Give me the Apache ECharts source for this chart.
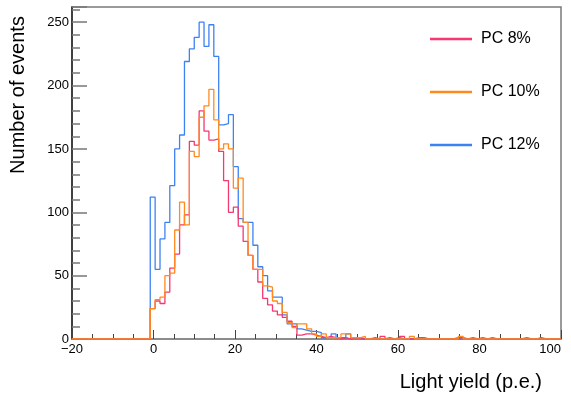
<!DOCTYPE html>
<html>
<head>
<meta charset="utf-8">
<script src="https://cdn.jsdelivr.net/npm/echarts@6/dist/echarts.min.js"></script>
<style>
  html, body { margin: 0; padding: 0; background: #fff; }
  #chart { width: 571px; height: 396px; }
</style>
</head>
<body>
<div id="chart"></div>
<script>
// Histogram binning: 100 bins from -20 to 100
const binLow = -20;
const binWidth = 1.2;

// Counts per bin (bin 0 starts at -20)
const pc8 = [
  0, 0, 0, 0, 0, 0, 0, 0, 0, 0, 0, 0, 0, 0, 0, 0,
  24, 30, 28, 37, 56, 67, 90, 98, 156, 153, 180, 164, 157, 158, 148, 125,
  100, 104, 89, 77, 66, 55, 45, 32, 27, 22, 19, 17, 14, 10, 3, 4,
  4, 3, 2, 1, 2, 1, 0, 1, 0, 1, 0, 0, 0, 0, 0, 2,
  0, 0, 0, 2, 0, 0, 1, 1, 0, 0, 0, 0, 0, 0, 1, 1,
  0, 0, 0, 1, 0, 0, 0, 0, 0, 0, 0, 0, 0, 0, 0, 0,
  0, 0, 0, 0
];
const pc10 = [
  0, 0, 0, 0, 0, 0, 0, 0, 0, 0, 0, 0, 0, 0, 0, 0,
  24, 31, 33, 50, 52, 86, 108, 90, 148, 144, 175, 184, 197, 173, 150, 154,
  150, 119, 127, 92, 66, 55, 55, 42, 41, 30, 28, 21, 13, 9, 12, 12,
  8, 4, 2, 4, 1, 1, 1, 4, 4, 1, 1, 2, 0, 0, 0, 0,
  0, 0, 0, 0, 0, 2, 0, 0, 0, 0, 0, 0, 0, 0, 0, 2,
  0, 0, 0, 0, 0, 0, 0, 0, 0, 0, 0, 0, 0, 0, 0, 0,
  0, 0, 0, 0
];
const pc12 = [
  0, 0, 0, 0, 0, 0, 0, 0, 0, 0, 0, 0, 0, 0, 0, 0,
  112, 55, 79, 92, 121, 150, 161, 219, 229, 238, 250, 231, 248, 223, 169, 170,
  177, 136, 95, 92, 92, 74, 57, 50, 38, 33, 33, 19, 12, 12, 8, 7,
  6, 6, 5, 1, 1, 4, 1, 1, 4, 0, 1, 0, 0, 1, 0, 0,
  1, 0, 1, 0, 0, 0, 0, 0, 0, 0, 0, 0, 0, 0, 0, 0,
  0, 1, 0, 0, 0, 1, 0, 0, 0, 0, 0, 0, 1, 0, 0, 1,
  0, 0, 0, 0
];

const seriesNames = ['PC 8%', 'PC 10%', 'PC 12%'];
const seriesColors = ['#f53772', '#ff8a1e', '#3d82f2'];

const font = 'Liberation Sans, Arial, Helvetica, sans-serif';

function toSteps(counts) {
  const pts = counts.map((c, i) => [binLow + i * binWidth, c]);
  pts.push([binLow + counts.length * binWidth, counts[counts.length - 1]]);
  return pts;
}

function histSeries(name, counts, color, z) {
  return {
    name: name,
    type: 'line',
    step: 'end',
    showSymbol: false,
    symbol: 'none',
    z: z,
    lineStyle: { color: color, width: 1.3 },
    itemStyle: { color: color },
    data: toSteps(counts)
  };
}

const chart = echarts.init(document.getElementById('chart'));

chart.setOption({
  animation: false,
  backgroundColor: '#fff',
  textStyle: { fontFamily: font },
  grid: {
    left: 72, right: 10, top: 7, bottom: 57,
    show: true, borderColor: '#7a7a7a', borderWidth: 1.5
  },
  legend: {
    data: seriesNames,
    orient: 'vertical',
    left: 425,
    top: 26,
    itemGap: 37,
    itemWidth: 42,
    itemHeight: 2.5,
    icon: 'rect',
    textStyle: { fontFamily: font, fontSize: 16, color: '#000', padding: [0, 0, 0, 4] }
  },
  xAxis: {
    type: 'value',
    min: -20,
    max: 100,
    interval: 20,
    axisLine: { show: true, onZero: false, lineStyle: { color: '#888', width: 1.5 } },
    axisTick: { show: true, inside: true, length: 9, lineStyle: { color: '#444' } },
    minorTick: { show: true, splitNumber: 4, length: 5, lineStyle: { color: '#444' } },
    splitLine: { show: false },
    axisLabel: {
      color: '#000', fontSize: 13, fontFamily: font, margin: 4,
      alignMaxLabel: 'right',
      formatter: v => (v < 0 ? '\u2212' + Math.abs(v) : String(v))
    }
  },
  yAxis: {
    type: 'value',
    min: 0,
    max: 262,
    interval: 50,
    axisLine: { show: true, onZero: false, lineStyle: { color: '#222', width: 1.5 } },
    axisTick: { show: true, inside: true, length: 15, lineStyle: { color: '#777', width: 1.5 } },
    minorTick: { show: true, splitNumber: 5, length: 8, lineStyle: { color: '#777', width: 1.5 } },
    splitLine: { show: false },
    axisLabel: {
      color: '#000', fontSize: 13, fontFamily: font, margin: 3,
      formatter: v => (v % 50 === 0 ? String(v) : '')
    }
  },
  graphic: [
    {
      type: 'text',
      x: 18, y: 95,
      rotation: Math.PI / 2,
      style: {
        text: 'Number of events',
        fontFamily: font, fontSize: 20, fill: '#000',
        align: 'center', verticalAlign: 'middle'
      }
    },
    {
      type: 'text',
      x: 542, y: 382,
      style: {
        text: 'Light yield (p.e.)',
        fontFamily: font, fontSize: 20, fill: '#000',
        align: 'right', verticalAlign: 'middle'
      }
    }
  ],
  series: [
    histSeries(seriesNames[2], pc12, seriesColors[2], 2),
    histSeries(seriesNames[0], pc8, seriesColors[0], 3),
    histSeries(seriesNames[1], pc10, seriesColors[1], 4)
  ]
});
</script>
</body>
</html>
